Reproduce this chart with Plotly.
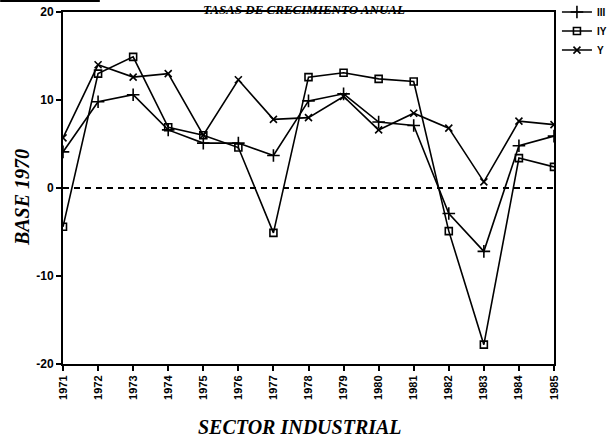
import plotly.graph_objects as go

years = [1971, 1972, 1973, 1974, 1975, 1976, 1977, 1978, 1979, 1980, 1981, 1982, 1983, 1984, 1985]
year_labels = [str(y) for y in years]
serie_III = [4.1, 9.8, 10.6, 6.6, 5.1, 5.1, 3.7, 9.9, 10.7, 7.5, 7.1, -2.9, -7.2, 4.8, 5.9]
serie_IV = [-4.4, 13.0, 14.9, 6.9, 6.0, 4.6, -5.1, 12.6, 13.1, 12.4, 12.1, -4.9, -17.8, 3.4, 2.4]
serie_V = [5.7, 14.0, 12.6, 13.0, 6.0, 12.3, 7.8, 8.0, 10.4, 6.6, 8.5, 6.8, 0.7, 7.6, 7.2]
y_ticks = [-20, -10, 0, 10, 20]
y_tick_labels = ["-20", "-10", "0", "10", "20"]
names = ["III", "IY", "Y"]

title_text = "TASAS DE CRECIMIENTO ANUAL"
x_title = "SECTOR INDUSTRIAL"
y_title = "BASE 1970"

serif = "Liberation Serif, DejaVu Serif, serif"
sans = "Liberation Sans, Arial, sans-serif"

fig = go.Figure()
styles = [
    dict(symbol="cross-thin", size=9, line=dict(width=1.6, color="black")),
    dict(symbol="square-open", size=7, line=dict(width=1.6, color="black")),
    dict(symbol="x-thin", size=7, line=dict(width=1.6, color="black")),
]
for name, vals, mk in zip(names, [serie_III, serie_IV, serie_V], styles):
    fig.add_trace(go.Scatter(
        x=years, y=vals, name=name, mode="lines+markers",
        line=dict(color="black", width=1.6),
        marker=dict(color="black", **mk),
    ))

fig.add_shape(type="line", xref="paper", yref="y", x0=0, x1=1, y0=0, y1=0,
              line=dict(color="black", width=1.8, dash="6px,5px"))
# cut-off frame at top left
fig.add_shape(type="line", xref="paper", yref="paper", x0=-0.128, x1=0.075, y0=1.031, y1=1.031,
              line=dict(color="black", width=2))

fig.update_layout(
    width=612, height=443,
    margin=dict(l=63, r=58, t=12, b=79, autoexpand=False),
    paper_bgcolor="white", plot_bgcolor="white",
    showlegend=True,
    legend=dict(x=1.006, y=1.041, xanchor="left", yanchor="top",
                font=dict(family=sans, size=10, color="black", weight="bold"),
                itemwidth=30, tracegroupgap=0, bgcolor="rgba(0,0,0,0)"),
    xaxis=dict(range=[1971, 1985], tickmode="array", tickvals=years, ticktext=year_labels,
               tickangle=-90, ticks="outside", ticklen=5, tickwidth=1.5, tickcolor="black",
               showline=True, linecolor="black", linewidth=2, mirror=True,
               showgrid=False, zeroline=False,
               tickfont=dict(family=sans, size=11, color="black", weight="bold")),
    yaxis=dict(range=[-20, 20], tickmode="array", tickvals=y_ticks, ticktext=y_tick_labels,
               ticks="outside", ticklen=5, tickwidth=1.5, tickcolor="black",
               showline=True, linecolor="black", linewidth=2, mirror=True,
               showgrid=False, zeroline=False,
               tickfont=dict(family=sans, size=12, color="black", weight="bold")),
    annotations=[
        dict(text=title_text, xref="paper", yref="paper", x=0.49, y=1.034,
             xanchor="center", yanchor="top", showarrow=False,
             font=dict(family=serif, size=13, color="black", weight="bold", style="italic")),
        dict(text=x_title, xref="paper", yref="paper", x=0.483, y=-0.18,
             xanchor="center", yanchor="middle", showarrow=False,
             font=dict(family=serif, size=20, color="black", weight="bold", style="italic")),
        dict(text=y_title, xref="paper", yref="paper", x=-0.083, y=0.472,
             xanchor="center", yanchor="middle", showarrow=False, textangle=-90,
             font=dict(family=serif, size=20, color="black", weight="bold", style="italic")),
    ],
)

fig.write_html("out.html", config={"displayModeBar": False},
               post_script="document.body.style.margin='0';")
